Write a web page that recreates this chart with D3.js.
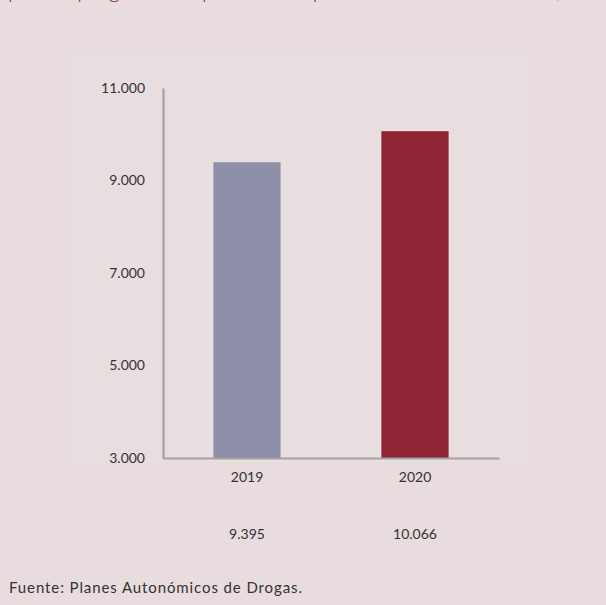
<!DOCTYPE html>
<html><head><meta charset="utf-8">
<script src="https://cdn.jsdelivr.net/npm/d3@7"></script>
<style>
html,body{margin:0;padding:0;background:#e9dcde;}
svg{display:block;font-family:Lato,"Noto Sans",sans-serif;}
</style></head>
<body><svg id="c" width="606" height="605"></svg>
<script>
const categories = ["2019", "2020"];
const values = [9395, 10066];
const yTicks = [3000, 5000, 7000, 9000, 11000];
const titleText = "para el programa de prevención por comunidad autónoma, 2019-2020";
const sourceText = "Fuente: Planes Autonómicos de Drogas.";
const colors = ["#8e8fa9", "#8e2434"];

const fmt = d3.formatLocale({decimal: ",", thousands: ".", grouping: [3], currency: ["", "€"]}).format(",d");
const svg = d3.select("#c");

svg.append("rect").attr("width", 606).attr("height", 605).attr("fill", "#e9dcde");
svg.append("rect").attr("x", 67).attr("y", 52).attr("width", 466).attr("height", 410).attr("fill", "#e8dedf");

svg.append("text").attr("x", 8).attr("y", -2).attr("font-size", 22).attr("font-weight", 300)
  .attr("fill", "#8b1f3a").text(titleText);

const x = d3.scaleBand().domain(categories).range([163, 499]).padding(0);
const y = d3.scaleLinear().domain([3000, 11000]).range([458, 88]);
const barW = x.bandwidth() * 0.4;

svg.selectAll("rect.bar").data(values).join("rect").attr("class", "bar")
  .attr("x", (d, i) => x(categories[i]) + x.bandwidth() / 2 - barW / 2)
  .attr("y", d => y(d)).attr("width", barW).attr("height", d => y(3000) - y(d))
  .attr("fill", (d, i) => colors[i]);

// y axis
const ya = svg.append("g").attr("transform", "translate(163,0)")
  .call(d3.axisLeft(y).tickValues(yTicks).tickFormat(fmt).tickSize(0).tickPadding(18));
ya.select(".domain").attr("stroke", "#a3a1a2").attr("stroke-width", 2.2);
ya.selectAll("text").attr("font-size", 14).attr("fill", "#333").attr("font-family", "Lato,'Noto Sans',sans-serif");

// x axis
const xa = svg.append("g").attr("transform", "translate(0,458)")
  .call(d3.axisBottom(x).tickSize(0).tickPadding(14));
xa.select(".domain").attr("stroke", "#a3a1a2").attr("stroke-width", 2.2);
xa.selectAll("text").attr("font-size", 14).attr("fill", "#333").attr("font-family", "Lato,'Noto Sans',sans-serif");

// value row
svg.selectAll("text.val").data(values).join("text").attr("class", "val")
  .attr("x", (d, i) => x(categories[i]) + x.bandwidth() / 2)
  .attr("y", 539).attr("text-anchor", "middle").attr("font-size", 14).attr("fill", "#333")
  .text(d => fmt(d));

svg.append("text").attr("x", 9).attr("y", 593).attr("font-size", 15).attr("letter-spacing", 0.9)
  .attr("fill", "#333").text(sourceText);
</script></body></html>
